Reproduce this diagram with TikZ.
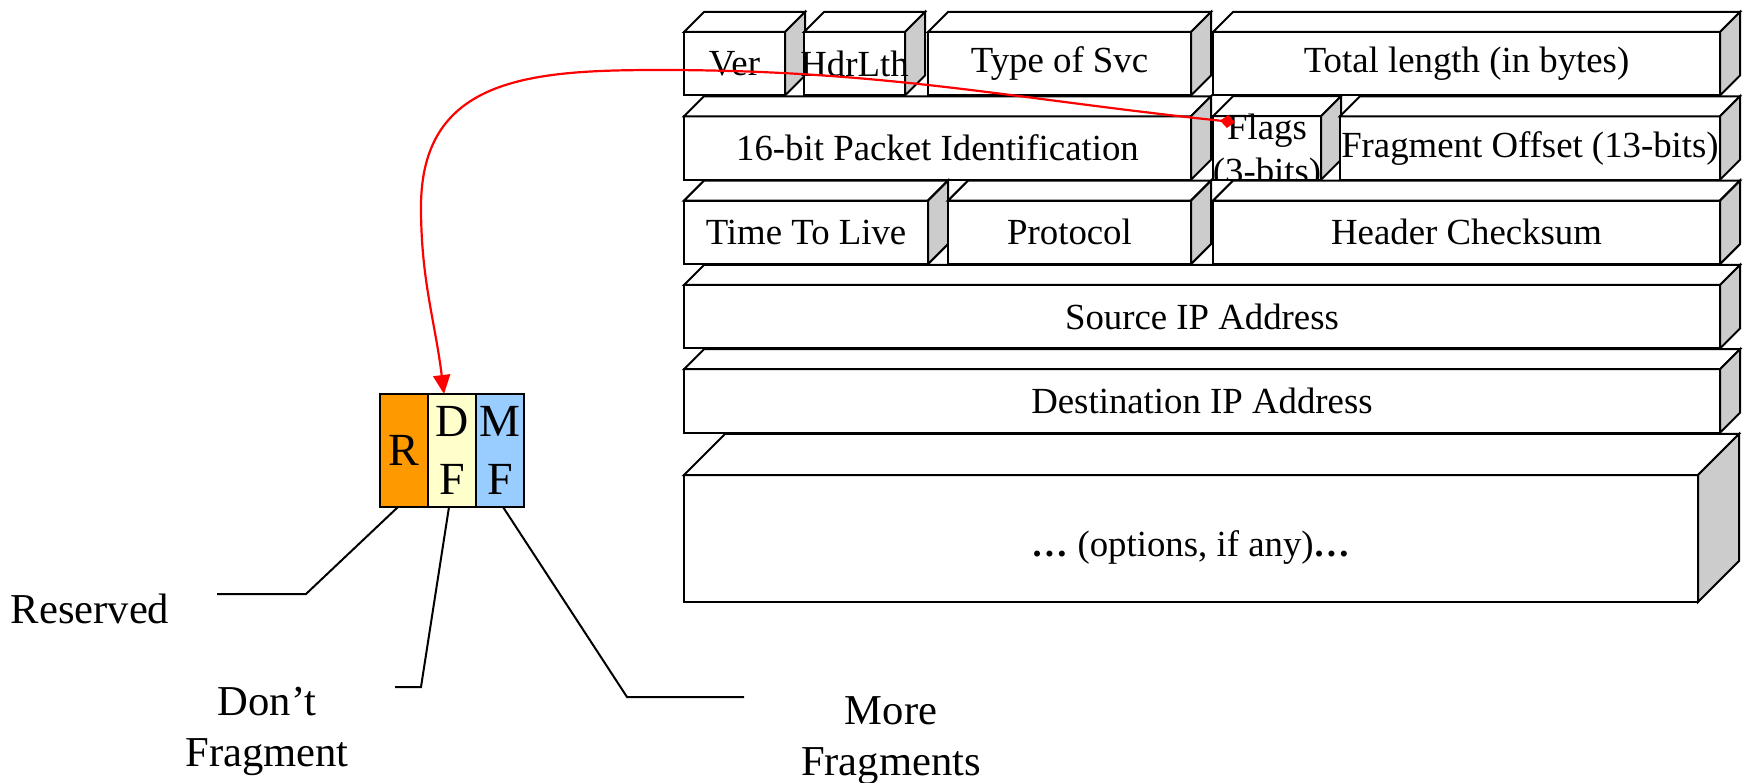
\documentclass[tikz,border=0pt]{standalone}
\usepackage{fontspec}
\setmainfont{Liberation Serif}
\usetikzlibrary{arrows.meta,calc}

\definecolor{sidegray}{RGB}{204,204,204}
\definecolor{rescol}{RGB}{255,153,0}
\definecolor{dfcol}{RGB}{255,255,204}
\definecolor{mfcol}{RGB}{153,204,255}

\tikzset{
  frontface/.style={draw, fill=white, line width=2pt, inner sep=0pt, outer sep=0pt},
  topface/.style={draw, fill=white, line width=2pt, line join=miter},
  sideface/.style={draw, fill=sidegray, line width=2pt, line join=miter},
  fieldtext/.style={font=\fontsize{36.8}{44}\selectfont, inner sep=0pt, align=center},
  flagcell/.style={draw, line width=2pt, inner sep=0pt, outer sep=0pt,
    minimum width=48, minimum height=113, align=center,
    font=\fontsize{46}{58}\selectfont},
  lbl/.style={font=\fontsize{42.6}{51}\selectfont, inner sep=0pt, align=center},
  leader/.style={draw, line width=2pt},
  redlink/.style={draw=red, line width=2.2pt,
    {Diamond[width=13pt,length=15pt]}-{Triangle[width=17pt,length=19pt]}}
}

% one header field drawn as a block: front face, top face, shaded side face, caption
% #1 name, #2 left, #3 top, #4 right, #5 bottom, #6 depth, #7 caption shift, #8 caption
\newcommand\hdrfield[8]{%
  \node[frontface, minimum width={(#4)-(#2)}, minimum height={(#5)-(#3)}]
    (#1) at ({((#2)+(#4))/2},{((#3)+(#5))/2}) {};
  \draw[topface] (#1.north west) -- ++(#6,-#6) -- ($(#1.north east)+(#6,-#6)$)
    -- (#1.north east) -- cycle;
  \draw[sideface] (#1.north east) -- ++(#6,-#6) -- ($(#1.south east)+(#6,-#6)$)
    -- (#1.south east) -- cycle;
  \node[fieldtext] (#1-txt) at ($(#1.center)+(0,#7)$) {#8};
}

\begin{document}
\begin{tikzpicture}[x=1pt, y=-1pt]
\useasboundingbox (0,0) rectangle (1746,783);

% row 1
\hdrfield{ver}{684}{32}{785}{95.5}{20}{0}{Ver}
\hdrfield{hdrlth}{804}{32}{905}{95.5}{20}{0}{HdrLth}
\hdrfield{tos}{928}{32}{1191}{95.5}{20}{0}{Type of Svc}
\hdrfield{totlen}{1213}{32}{1720}{95.5}{20}{0}{Total length (in bytes)}
% row 2
\hdrfield{pktid}{684}{116.3}{1191}{179.8}{20}{0}{16-bit Packet Identification}
\node[frontface, minimum width=108, minimum height=63.5] (flags) at (1267,148) {};
\draw[topface] (flags.north west) -- ++(20,-20) -- ($(flags.north east)+(20,-20)$)
  -- (flags.north east) -- cycle;
% the two-line caption is taller than the field, so its lower edge is cut off
\begin{scope}
  \clip ($(flags.north west)+(0,-12)$) rectangle ($(flags.south east)+(3,-1)$);
  \node[fieldtext] (flags-txt) at (1267,153) {Flags\\(3-bits)};
\end{scope}
\draw[sideface] (flags.north east) -- ++(20,-20) -- ($(flags.south east)+(20,-20)$)
  -- (flags.south east) -- cycle;
\draw[line width=2pt] (flags.north west) rectangle (flags.south east);
\hdrfield{fragoff}{1340}{116.3}{1720}{179.8}{20}{0}{Fragment Offset (13-bits)}
% row 3
\hdrfield{ttl}{684}{200.6}{928}{264.1}{20}{0}{Time To Live}
\hdrfield{proto}{948}{200.6}{1191}{264.1}{20}{0}{Protocol}
\hdrfield{cksum}{1213}{200.6}{1720}{264.1}{20}{0}{Header Checksum}
% rows 4 and 5
\hdrfield{srcip}{684}{285}{1720}{348.5}{20}{0}{Source IP Address}
\hdrfield{dstip}{684}{369.2}{1720}{432.7}{20}{0}{Destination IP Address}
% options
\hdrfield{opts}{684}{475}{1698}{602}{41}{9}{\textbf{…} (options, if any)\textbf{…}}

% the three flag bits
\node[flagcell, fill=rescol] (r) at (404,450.5) {R};
\node[flagcell, fill=dfcol] (df) at (452,450.5) {D\\F};
\node[flagcell, fill=mfcol] (mf) at (500,450.5) {M\\F};

% bit labels and their leaders
\node[lbl, anchor=base] (reserved) at (90,623) {Reserved};
\node[lbl] (dontfrag) at (267,731) {Don’t\\Fragment};
\node[lbl] (morefrag) at (891,741) {More\\Fragments};

\coordinate (resv-knee) at (306,594);
\coordinate (resv-end) at (217,594);
\coordinate (dont-knee) at (421,687);
\coordinate (dont-end) at (395,687);
\coordinate (more-knee) at (627,697);
\coordinate (more-end) at (744,697);
\draw[leader] ($(r.south)+(-6,0)$) -- (resv-knee) -- (resv-end);
\draw[leader] ($(df.south)+(-3,0)$) -- (dont-knee) -- (dont-end);
\draw[leader] ($(mf.south)+(3,0)$) -- (more-knee) -- (more-end);

% link from the flags field down to the bits
\coordinate (flagdot) at ($(flags.north west)+(22,6)$);
\coordinate (dfhit) at ($(df.north west)+(16,0)$);
\coordinate (arcapex) at (660,70);
\coordinate (arcbend) at (421,207);
\draw[redlink] (flagdot) to[out=174,in=0] (arcapex)
  to[out=180,in=90,looseness=1.2] (arcbend)
  to[out=-90,in=97] (dfhit);
\end{tikzpicture}
\end{document}
